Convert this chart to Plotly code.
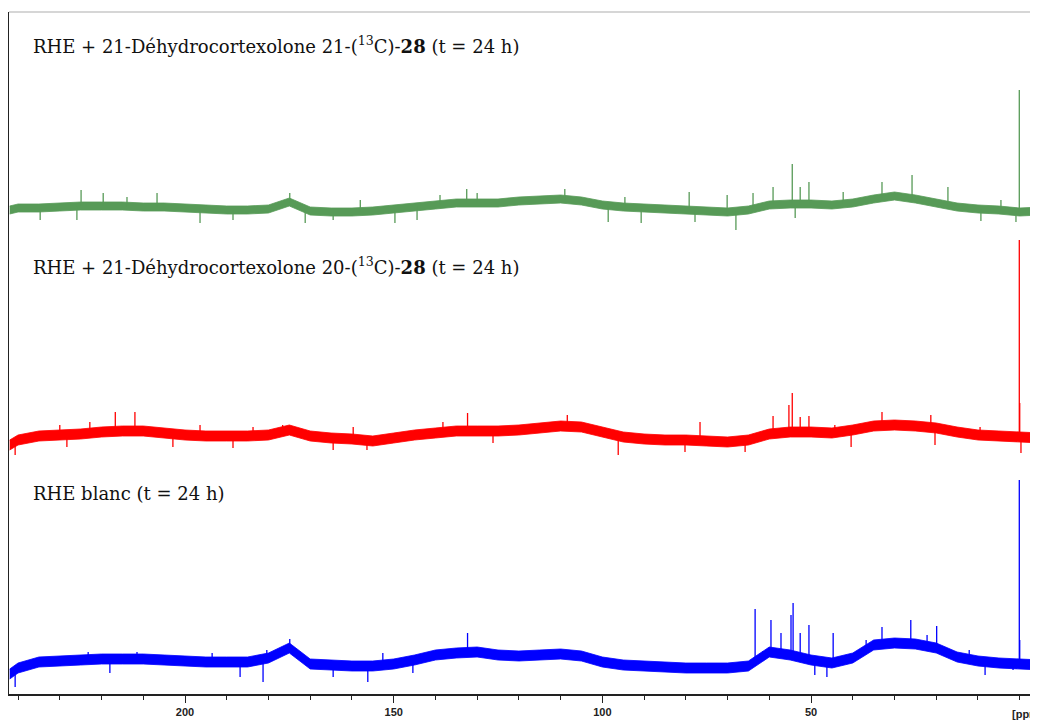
import numpy as np
import plotly.graph_objects as go

# ---------------- data ----------------
ppm = [242, 240, 235, 230, 225, 220, 215, 210, 205, 200, 195, 190, 185, 180, 175,
       170, 165, 160, 155, 150, 145, 140, 135, 130, 125, 120, 115, 110, 105, 100,
       95, 90, 85, 80, 75, 70, 65, 60, 55, 50, 45, 40, 35, 30, 25, 20, 15, 10, 5, 0, -5]

# baseline intensity profiles (arbitrary units) of each spectrum
green_base = [0, 2, 2, 3, 4, 4, 4, 3, 3, 2, 1, 0, 0, 1, 8, -1, -2, -2, -1, 1, 3,
              5, 7, 7, 7, 9, 10, 11, 9, 5, 3, 2, 1, 0, -1, -2, 0, 5, 6, 6, 5,
              7, 11, 14, 11, 7, 3, 1, 0, -2, -1]
red_base = [-10, -5, -1, 0, 1, 3, 4, 4, 2, 0, -1, -1, -1, 0, 5, -1, -3, -4, -6, -3, 0,
            2, 4, 4, 4, 5, 7, 9, 8, 3, -2, -4, -5, -5, -6, -7, -5, 1, 3, 3, 2,
            5, 9, 10, 9, 7, 3, 0, -1, -2, -3]
blue_base = [-12, -6, 0, 1, 2, 3, 3, 3, 2, 1, 0, 0, 0, 4, 14, -2, -3, -4, -4, -2, 2,
             7, 9, 10, 7, 6, 7, 8, 6, 0, -3, -4, -5, -6, -6, -6, -4, 10, 7, 2, -1,
             4, 17, 19, 18, 14, 5, 1, -1, -2, -3]

# noise band half-width of each spectrum
green_noise = 4
red_noise = 5
blue_noise = 5

# resolved peaks and largest noise excursions: position (ppm) and height
green_peak_ppm = [224.9, 206.7, 174.9, 132.5, 79.2, 70.1, 59.1, 54.5, 52.6, 50.5, 33.0, 25.8, 17.2, 0.1,
                  219.6, 213.9, 158.0, 138.9, 130.0, 109.0, 94.6, 63.9, 42.3, 4.5,
                  234.7, 196.4, 171.2, 149.7, 90.7, 68.0, 9.3, 0.9,
                  225.9, 188.5, 164.5, 144.4, 98.6, 77.8, 53.8]
green_peak_h = [20, 17, 17, 21, 18, 15, 23, 46, 23, 28, 28, 35, 23, 120,
                17, 13, 10, 15, 17, 21, 13, 17, 18, 10,
                -10, -13, -13, -13, -13, -20, -11, -12,
                -10, -10, -10, -10, -12, -12, -8]
red_peak_ppm = [216.7, 212.0, 176.6, 132.3, 108.4, 59.1, 55.3, 54.5, 52.6, 50.5, 33.0, 0.1, 0.0,
                230.0, 222.8, 196.4, 183.7, 159.7, 138.2, 76.6, 44.3, 21.3, 9.5,
                240.7, 164.5, 156.4, 96.2, 65.8, -0.3,
                228.3, 202.9, 188.5, 126.2, 80.2, 40.4, 20.3]
red_peak_h = [23, 23, 10, 22, 20, 19, 30, 42, 18, 19, 23, 195, 32,
              10, 13, 10, 8, 8, 13, 13, 10, 20, 8,
              -20, -15, -15, -20, -17, -18,
              -12, -12, -13, -8, -17, -12, -10]
blue_peak_ppm = [174.9, 132.3, 63.4, 61.5, 59.6, 57.2, 54.8, 54.3, 52.6, 50.5, 44.7, 36.8, 33.0, 26.1, 19.9, 0.1, 0.0,
                 223.2, 211.5, 193.5, 180.4, 152.6, 22.2, 12.1,
                 240.7, 181.3, 156.2, 46.2, 8.3,
                 218.0, 186.8, 164.5, 145.4, 49.1, 1.6]
blue_peak_h = [23, 29, 53, 11, 42, 29, 47, 59, 29, 37, 29, 22, 35, 42, 36, 182, 22,
               10, 10, 9, 12, 9, 27, 12,
               -25, -20, -20, -15, -13,
               -11, -15, -15, -11, -13, -8]

labels = [
    "RHE + 21-Déhydrocortexolone 21-(<sup>13</sup>C)-<b>28</b> (t = 24 h)",
    "RHE + 21-Déhydrocortexolone 20-(<sup>13</sup>C)-<b>28</b> (t = 24 h)",
    "RHE blanc (t = 24 h)",
]
tick_vals = [200, 150, 100, 50]
tick_text = ["200", "150", "100", "50"]
unit_label = "[ppm]"

# ---------------- figure ----------------
spectra = [
    (green_base, green_noise, green_peak_ppm, green_peak_h, "#579a57", 484),
    (red_base, red_noise, red_peak_ppm, red_peak_h, "#ff0000", 259),
    (blue_base, blue_noise, blue_peak_ppm, blue_peak_h, "#0000ff", 32),
]

fig = go.Figure()
x = np.array(ppm, dtype=float)
for base, noise, pk_x, pk_h, color, offset in spectra:
    b = np.array(base, dtype=float) + offset
    upper = b + noise
    lower = b - noise
    fig.add_trace(go.Scatter(
        x=np.concatenate([x, x[::-1]]),
        y=np.concatenate([upper, lower[::-1]]),
        mode="lines", fill="toself", fillcolor=color,
        line=dict(color=color, width=0.8), hoverinfo="skip", showlegend=False))
    xs, ys = [], []
    bx = x[::-1]
    bb = b[::-1]
    for p, h in zip(pk_x, pk_h):
        y0 = float(np.interp(p, bx, bb))
        xs += [p, p, None]
        ys += [y0, offset + h, None]
    fig.add_trace(go.Scatter(x=xs, y=ys, mode="lines",
                             line=dict(color=color, width=1.3),
                             hoverinfo="skip", showlegend=False))

label_y = [0.9516, 0.6276, 0.2947]
for txt, yy in zip(labels, label_y):
    fig.add_annotation(text=txt, xref="paper", yref="paper", x=0.0214, y=yy,
                       xanchor="left", yanchor="middle", showarrow=False,
                       font=dict(family="DejaVu Serif", size=18, color="#111111"))

fig.add_annotation(text=unit_label, xref="x", yref="paper", x=-1.8, y=-0.0293,
                   xanchor="center", yanchor="middle", showarrow=False,
                   font=dict(family="Liberation Sans", size=11, color="#222222",
                             weight="bold"))

fig.add_shape(type="line", xref="paper", yref="paper", x0=0, x1=1, y0=1, y1=1,
              line=dict(color="#c8c8c8", width=1.5))

# page body has an 8px margin: figure is sized / offset to land on the reference layout
fig.update_layout(
    width=1030, height=714,
    margin=dict(l=1, r=0, t=4, b=28),
    paper_bgcolor="white", plot_bgcolor="white",
    xaxis=dict(range=[242.17, -4.38], showgrid=False, zeroline=False,
               showline=True, linecolor="#222222", linewidth=1.5,
               ticks="outside", ticklen=7, tickcolor="#222222", tickwidth=1.2,
               tickvals=tick_vals, ticktext=tick_text,
               tickfont=dict(family="Liberation Sans", size=11, color="#222222",
                             weight="bold"),
               minor=dict(dtick=10, tick0=0, ticks="outside", ticklen=4,
                          tickcolor="#222222", tickwidth=1.2)),
    yaxis=dict(range=[0, 682], showgrid=False, zeroline=False, showline=True,
               linecolor="#222222", linewidth=1.5, ticks="", showticklabels=False),
)

fig.write_html("out.html")
